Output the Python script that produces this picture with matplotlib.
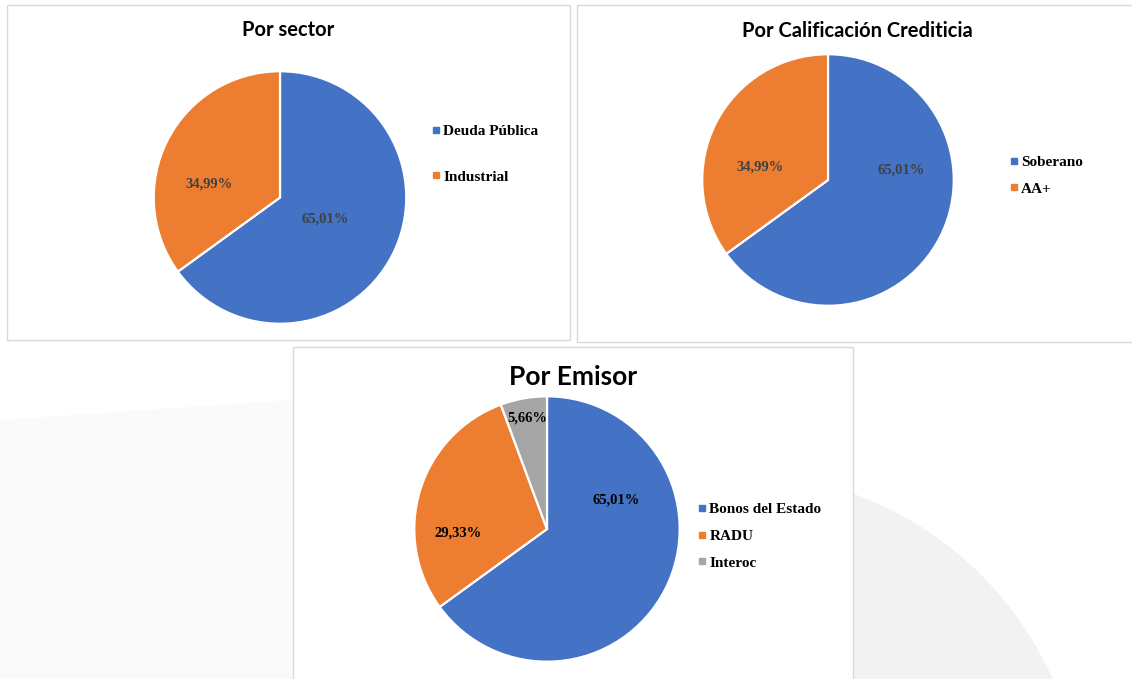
import matplotlib
matplotlib.use("Agg")
import matplotlib.pyplot as plt
from matplotlib.patches import Rectangle, Circle, Polygon
from matplotlib.lines import Line2D

# data
sector_labels = ["Deuda Pública", "Industrial"]
sector_values = [65.01, 34.99]
rating_labels = ["Soberano", "AA+"]
rating_values = [65.01, 34.99]
issuer_labels = ["Bonos del Estado", "RADU", "Interoc"]
issuer_values = [65.01, 29.33, 5.66]

colors = ["#4472C4", "#ED7D31", "#A5A5A5"]

W, H = 1132, 679
fig = plt.figure(figsize=(W / 100, H / 100), dpi=100, facecolor="white")


def fx(x):
    return x / W


def fy(y):
    return 1 - y / H


# background + panel frames, drawn in pixel coords
bg = fig.add_axes([0, 0, 1, 1])
bg.set_xlim(0, W)
bg.set_ylim(H, 0)
bg.set_axis_off()
bg.add_patch(Polygon([(0, 420), (293, 400), (293, H), (0, H)], closed=True,
                     facecolor="#fafafa", edgecolor="none"))
bg.add_patch(Circle((735, 821), 348, facecolor="#f2f2f2", edgecolor="none"))
for x0, y0, x1, y1 in [(7, 5, 570, 340), (577, 5, 1140, 342), (293, 347, 853, 690)]:
    bg.add_patch(Rectangle((x0, y0), x1 - x0, y1 - y0, facecolor="white",
                           edgecolor="#d9d9d9", linewidth=1.0))

title_font = dict(family="Lato", fontweight="bold", color="black")
serif = "Liberation Serif"


def draw_pie(cx, cy, r, values, labels, label_pos, label_color, title, title_xy,
             title_size, leg_xy, leg_spacing):
    ax = fig.add_axes([fx(cx - r), fy(cy + r), 2 * r / W, 2 * r / H])
    wedges, _ = ax.pie(values, colors=colors[:len(values)], startangle=90,
                       counterclock=False, radius=1,
                       wedgeprops=dict(edgecolor="white", linewidth=1.6))
    ax.set_xlim(-1.01, 1.01)
    ax.set_ylim(-1.01, 1.01)
    ax.set_axis_off()
    for v, (px, py) in zip(values, label_pos):
        ax.text(px, py, f"{v:.2f}%".replace(".", ","), ha="center", va="center",
                fontsize=10.5, fontweight="bold", family=serif, color=label_color)
    fig.text(fx(title_xy[0]), fy(title_xy[1]), title, ha="center", va="center",
             fontsize=title_size, **title_font)
    handles = [Line2D([], [], marker="s", linestyle="none", color=c, markersize=4)
               for c in colors[:len(values)]]
    fig.legend(handles, labels, loc="center left",
               bbox_to_anchor=(fx(leg_xy[0]), fy(leg_xy[1])), frameon=False,
               borderpad=0, handlelength=0.4, handletextpad=0.3,
               labelspacing=leg_spacing,
               prop=dict(family=serif, weight="bold", size=11))


draw_pie(280, 197.5, 127.5, sector_values, sector_labels,
         [(0.36, -0.17), (-0.56, 0.11)], "#404040",
         "Por sector", (288, 30), 14.5, (425, 154), 2.1)
draw_pie(828, 180, 127, rating_values, rating_labels,
         [(0.58, 0.08), (-0.54, 0.10)], "#404040",
         "Por Calificación Crediticia", (857, 31), 14.5, (1003, 175.5), 0.85)
draw_pie(547, 529, 134, issuer_values, issuer_labels,
         [(0.52, 0.22), (-0.67, -0.03), (-0.15, 0.84)], "black",
         "Por Emisor", (573, 377), 19, (691, 536), 0.85)

fig.savefig("out.png", dpi=100, facecolor="white")
